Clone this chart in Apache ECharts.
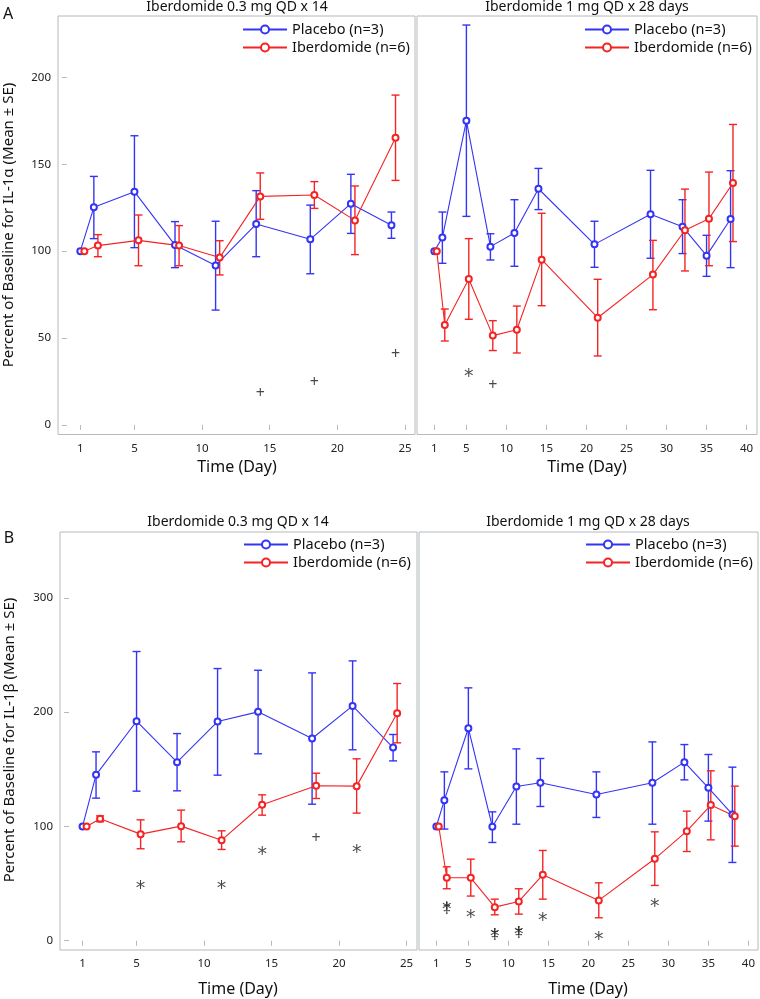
<!DOCTYPE html>
<html>
<head>
<meta charset="utf-8">
<script src="https://cdn.jsdelivr.net/npm/echarts@6/dist/echarts.min.js"></script>
<style>html,body{margin:0;padding:0;background:#fff}#c{width:760px;height:999px}</style>
</head>
<body>
<div id="c"></div>
<script>
// ---------- Data ----------
const xTicks03 = [1, 5, 10, 15, 20, 25];
const xTicks1 = [1, 5, 10, 15, 20, 25, 30, 35, 40];
const yTicksA = [0, 50, 100, 150, 200];
const yTicksB = [0, 100, 200, 300];

// Panel A (IL-1α), 0.3 mg QD x 14
const a03PboDay  = [1, 2, 5, 8, 11, 14, 18, 21, 24];
const a03PboMean = [100, 125.2, 134.2, 103.5, 91.8, 115.6, 106.8, 127.3, 114.9];
const a03PboHi   = [null, 143, 166.4, 117, 117.2, 134.8, 126.5, 144.2, 122.5];
const a03PboLo   = [null, 107.2, 102, 90.5, 66.1, 96.8, 87, 110.2, 107.4];
const a03IbdDay  = [1.3, 2.3, 5.3, 8.3, 11.3, 14.3, 18.3, 21.3, 24.3];
const a03IbdMean = [100, 103.2, 106.2, 103.2, 96.3, 131.5, 132.3, 117.7, 165.3];
const a03IbdHi   = [null, 109.5, 120.8, 114.7, 106, 145, 140, 137.5, 189.8];
const a03IbdLo   = [null, 96.8, 91.6, 91.6, 86.3, 118.3, 124.6, 98, 140.7];
const a03Sig     = [[14.3, 18.2, '+'], [18.3, 24.7, '+'], [24.3, 40.8, '+']];

// Panel A (IL-1α), 1 mg QD x 28 days
const a1PboDay  = [1, 2, 5, 8, 11, 14, 21, 28, 32, 35, 38];
const a1PboMean = [100, 107.8, 175.1, 102.6, 110.4, 135.9, 103.9, 121.2, 114.1, 97.4, 118.5];
const a1PboHi   = [null, 122.5, 230.1, 110, 129.6, 147.6, 117.2, 146.5, 129.6, 109.1, 146.3];
const a1PboLo   = [null, 93, 120, 94.9, 91.3, 123.9, 90.7, 95.9, 98.6, 85.5, 90.5];
const a1IbdDay  = [1.3, 2.3, 5.3, 8.3, 11.3, 14.4, 21.4, 28.3, 32.3, 35.3, 38.3];
const a1IbdMean = [100, 57.5, 84, 51.4, 54.8, 95.1, 61.7, 86.5, 112, 118.7, 139.2];
const a1IbdHi   = [null, 66.7, 107.2, 60, 68.4, 121.8, 83.8, 106.2, 135.7, 145.5, 172.9];
const a1IbdLo   = [null, 48.3, 60.8, 42.8, 41.4, 68.6, 39.7, 66.3, 88.6, 91.6, 105.5];
const a1Sig     = [[5.3, 30.7, '*'], [8.3, 22.6, '+']];

// Panel B (IL-1β), 0.3 mg QD x 14
const b03PboDay  = [1, 2, 5, 8, 11, 14, 18, 21, 24];
const b03PboMean = [100, 145.2, 192.1, 156.3, 191.8, 200.3, 177, 205.5, 169.1];
const b03PboHi   = [null, 165.3, 253.1, 181.3, 238.2, 236.7, 234.4, 244.9, 180.5];
const b03PboLo   = [null, 124.8, 130.9, 131.2, 144.9, 163.6, 119.5, 167.1, 157.4];
const b03IbdDay  = [1.3, 2.3, 5.3, 8.3, 11.3, 14.3, 18.3, 21.3, 24.3];
const b03IbdMean = [100, 106.7, 93.3, 100.3, 88, 119, 135.6, 135.3, 199.1];
const b03IbdHi   = [null, 109.3, 105.8, 114.3, 96.2, 127.7, 146.6, 159.2, 225.1];
const b03IbdLo   = [null, 104.1, 80.5, 86.6, 79.9, 109.9, 124.5, 111.7, 173.2];
const b03Sig     = [[5.3, 49.9, '*'], [11.3, 49.3, '*'], [14.3, 79.6, '*'], [18.3, 89.2, '+'], [21.3, 81, '*']];

// Panel B (IL-1β), 1 mg QD x 28 days
const b1PboDay  = [1, 2, 5, 8, 11, 14, 21, 28, 32, 35, 38];
const b1PboMean = [100, 123, 186, 99.7, 135, 138.2, 128, 138.2, 156.3, 133.8, 110.5];
const b1PboHi   = [null, 147.8, 221.3, 112.8, 167.9, 159.5, 147.8, 174, 171.7, 163, 151.9];
const b1PboLo   = [null, 97.7, 150.4, 86, 102, 117.5, 107.9, 102, 140.8, 104.7, 68.5];
const b1IbdDay  = [1.3, 2.3, 5.3, 8.3, 11.3, 14.3, 21.3, 28.3, 32.3, 35.3, 38.3];
const b1IbdMean = [100, 55.1, 55.1, 29.4, 34.4, 57.7, 35.3, 71.7, 95.9, 118.7, 109];
const b1IbdHi   = [null, 64.7, 71.4, 36.4, 45.5, 79, 50.7, 95.3, 113.4, 148.7, 135.3];
const b1IbdLo   = [null, 45.5, 39.1, 22.7, 23.3, 36.4, 20.1, 48.4, 78.1, 88.3, 82.8];
const b1Sig     = [[2.3, 30.8, '*'], [2.3, 27.5, '‡'], [5.3, 24, '*'], [8.3, 7.6, '*'], [8.3, 4.5, '‡'],
                   [11.3, 9.1, '*'], [11.3, 6, '‡'], [14.3, 21.6, '*'], [21.3, 5, '*'], [28.3, 33.8, '*']];

const panelTitles = ['Iberdomide 0.3 mg QD x 14', 'Iberdomide 1 mg QD x 28 days'];
const seriesNames = ['Placebo (n=3)', 'Iberdomide (n=6)'];
const yTitleA = 'Percent of Baseline for IL-1α (Mean ± SE)';
const yTitleB = 'Percent of Baseline for IL-1β (Mean ± SE)';
const xTitle = 'Time (Day)';

// ---------- Styling / layout ----------
const FONT = 'Noto Sans';
const BLUE = '#3434f4';
const RED = '#f42424';
const FRAME = '#b4babd';

const grids = [
  {left: 58,  top: 16,  width: 357, height: 418.5},
  {left: 417, top: 16,  width: 340, height: 418.5},
  {left: 60,  top: 532, width: 357, height: 418},
  {left: 419, top: 532, width: 339, height: 418}
].map(g => Object.assign({show: true, borderColor: FRAME, borderWidth: 1, backgroundColor: 'transparent'}, g));

function xAx(gi, min, max, ticks) {
  return {
    type: 'value', gridIndex: gi, min: min, max: max,
    axisLine: {show: false}, splitLine: {show: false},
    axisTick: {show: true, length: 5, lineStyle: {color: FRAME}, customValues: ticks},
    axisLabel: {show: true, customValues: ticks, fontFamily: FONT, fontSize: 11.5, color: '#222', margin: 8}
  };
}
function yAx(gi, min, max, ticks, showLabels) {
  return {
    type: 'value', gridIndex: gi, min: min, max: max,
    axisLine: {show: false}, splitLine: {show: false},
    axisTick: {show: showLabels, length: 5, lineStyle: {color: FRAME}, customValues: ticks},
    axisLabel: {show: showLabels, customValues: ticks, fontFamily: FONT, fontSize: 11.5, color: '#222', margin: 7}
  };
}

function errRender(params, api) {
  const lo = api.coord([api.value(0), api.value(1)]);
  const hi = api.coord([api.value(0), api.value(2)]);
  const w = 4;
  const style = {stroke: api.visual('color'), lineWidth: 1.4, fill: null};
  return {type: 'group', children: [
    {type: 'line', shape: {x1: lo[0], y1: lo[1], x2: hi[0], y2: hi[1]}, style: style},
    {type: 'line', shape: {x1: lo[0] - w, y1: lo[1], x2: lo[0] + w, y2: lo[1]}, style: style},
    {type: 'line', shape: {x1: hi[0] - w, y1: hi[1], x2: hi[0] + w, y2: hi[1]}, style: style}
  ]};
}

function group(gi, days, mean, lo, hi, name, color) {
  const errData = [];
  days.forEach((d, i) => { if (lo[i] != null) errData.push([d, lo[i], hi[i]]); });
  return [
    {type: 'custom', name: name + ' SE', xAxisIndex: gi, yAxisIndex: gi, renderItem: errRender,
     data: errData, encode: {x: 0, y: [1, 2]}, itemStyle: {color: color, opacity: 0.85}, silent: true, z: 2},
    {type: 'line', name: name, xAxisIndex: gi, yAxisIndex: gi,
     data: days.map((d, i) => [d, mean[i]]),
     symbol: 'emptyCircle', symbolSize: 6, showSymbol: true,
     lineStyle: {color: color, width: 1.1}, itemStyle: {color: color, borderColor: color, borderWidth: 1},
     emphasis: {disabled: true}, animation: false, z: 3}
  ];
}

function sig(gi, pts) {
  return {type: 'scatter', name: 'sig' + gi, xAxisIndex: gi, yAxisIndex: gi, symbolSize: 1,
    itemStyle: {color: 'rgba(0,0,0,0)'},
    data: pts.map(p => ({value: [p[0], p[1]], label: p[2] === '*'
      ? {formatter: p[2], fontFamily: 'DejaVu Sans', fontSize: 19, offset: [0, 5]}
      : {formatter: p[2], fontFamily: FONT, fontSize: 16, offset: [0, 0]}})),
    label: {show: true, position: 'inside', color: '#1a1a1a'},
    silent: true, z: 4};
}

function legend(left, top) {
  return {left: left, top: top, orient: 'vertical', itemWidth: 44, itemHeight: 10, itemGap: 3,
    padding: 0, selectedMode: false, data: seriesNames,
    textStyle: {fontFamily: FONT, fontSize: 14.5, color: '#111'}};
}

function txt(x, y, s, size, rot) {
  return {type: 'text', x: x, y: y, rotation: rot || 0,
    style: {text: s, fontFamily: FONT, fontSize: size, fill: '#111', textAlign: 'center', textVerticalAlign: 'middle'}};
}

const series = [].concat(
  group(0, a03PboDay, a03PboMean, a03PboLo, a03PboHi, seriesNames[0], BLUE),
  group(0, a03IbdDay, a03IbdMean, a03IbdLo, a03IbdHi, seriesNames[1], RED),
  [sig(0, a03Sig)],
  group(1, a1PboDay, a1PboMean, a1PboLo, a1PboHi, seriesNames[0], BLUE),
  group(1, a1IbdDay, a1IbdMean, a1IbdLo, a1IbdHi, seriesNames[1], RED),
  [sig(1, a1Sig)],
  group(2, b03PboDay, b03PboMean, b03PboLo, b03PboHi, seriesNames[0], BLUE),
  group(2, b03IbdDay, b03IbdMean, b03IbdLo, b03IbdHi, seriesNames[1], RED),
  [sig(2, b03Sig)],
  group(3, b1PboDay, b1PboMean, b1PboLo, b1PboHi, seriesNames[0], BLUE),
  group(3, b1IbdDay, b1IbdMean, b1IbdLo, b1IbdHi, seriesNames[1], RED),
  [sig(3, b1Sig)]
);

const chart = echarts.init(document.getElementById('c'), null, {renderer: 'canvas'});
chart.setOption({
  animation: false,
  backgroundColor: '#fff',
  textStyle: {fontFamily: FONT},
  grid: grids,
  xAxis: [
    xAx(0, -0.65, 25.74, xTicks03),
    xAx(1, -1.17, 41.3, xTicks1),
    xAx(2, -0.67, 25.77, xTicks03),
    xAx(3, -1.17, 41.2, xTicks1)
  ],
  yAxis: [
    yAx(0, -5.5, 235.3, yTicksA, true),
    yAx(1, -5.5, 235.3, yTicksA, false),
    yAx(2, -8.1, 357.7, yTicksB, true),
    yAx(3, -8.1, 357.7, yTicksB, false)
  ],
  legend: [legend(242, 22), legend(584, 22), legend(243, 537), legend(585, 537)],
  graphic: [
    txt(8, 14, 'A', 16),
    txt(9, 538, 'B', 16),
    txt(237, 7.5, panelTitles[0], 14),
    txt(587, 7.5, panelTitles[1], 14),
    txt(238, 522.5, panelTitles[0], 14),
    txt(588, 522.5, panelTitles[1], 14),
    txt(9, 225, yTitleA, 15, Math.PI / 2),
    txt(10, 740, yTitleB, 15, Math.PI / 2),
    txt(237, 467, xTitle, 16),
    txt(587, 467, xTitle, 16),
    txt(238, 989, xTitle, 16),
    txt(588, 989, xTitle, 16)
  ],
  series: series
});
</script>
</body>
</html>
